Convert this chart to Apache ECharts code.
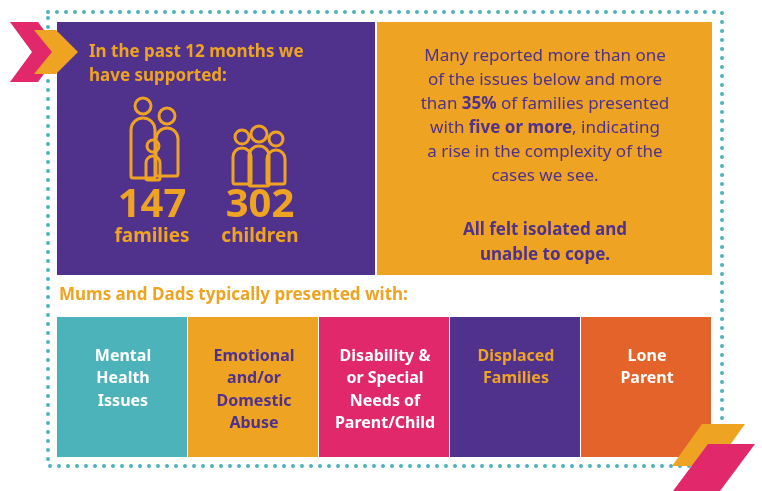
<!DOCTYPE html>
<html><head><meta charset="utf-8">
<script src="https://cdn.jsdelivr.net/npm/echarts@6/dist/echarts.min.js"></script>
<style>html,body{margin:0;background:#fff}#main{width:762px;height:491px}</style>
</head><body><div id="main"></div>
<script>
var statValues = [147, 302];
var statLabels = ['families', 'children'];
var categories = ['Mental\nHealth\nIssues', 'Emotional\nand/or\nDomestic\nAbuse', 'Disability &\nor Special\nNeeds of\nParent/Child', 'Displaced\nFamilies', 'Lone\nParent'];
var catColors = ['#4bb3b9', '#eea422', '#e0286b', '#50318c', '#e3632b'];
var catTextColors = ['#fff', '#50318c', '#fff', '#eea422', '#fff'];

var PURPLE = '#50318c', ORANGE = '#eea422', TEAL = '#4bb3b9', PINK = '#e0286b';
var F = '"Noto Sans", sans-serif';
var myChart = echarts.init(document.getElementById('main'));
var g = [];

// dotted frame
g.push({type: 'rect', shape: {x: 48, y: 12, width: 674, height: 454},
  style: {fill: 'none', stroke: TEAL, lineWidth: 4, lineDash: [0, 9], lineCap: 'round'}});
// top panels
g.push({type: 'rect', shape: {x: 57, y: 22, width: 318, height: 253}, style: {fill: PURPLE}});
g.push({type: 'rect', shape: {x: 377, y: 22, width: 335, height: 253}, style: {fill: ORANGE}});
// chevrons top-left
g.push({type: 'polygon', shape: {points: [[10, 22], [38, 22], [60, 52], [38, 82], [10, 82], [32, 52]]}, style: {fill: PINK}});
g.push({type: 'polygon', shape: {points: [[34, 30], [56, 30], [78, 52], [56, 74], [34, 74], [52, 52]]}, style: {fill: ORANGE}});

g.push({type: 'text', left: 89, top: 40, style: {text: 'In the past 12 months we\nhave supported:',
  fill: ORANGE, font: 'bold 17px ' + F, lineHeight: 24}});

// icons (outline people)
function person(cx, top, r, w, h) {
  g.push({type: 'circle', shape: {cx: cx, cy: top + r, r: r}, style: {fill: 'none', stroke: ORANGE, lineWidth: 3}});
  g.push({type: 'rect', shape: {x: cx - w / 2, y: top + 2 * r + 4, width: w, height: h, r: [w / 2, w / 2, 2, 2]},
    style: {fill: 'none', stroke: ORANGE, lineWidth: 3}});
}
person(143, 98, 8, 24, 60);
person(167, 108, 8, 22, 48);
person(153, 140, 6, 14, 24);
person(242, 130, 7, 18, 36);
person(259, 126, 8, 20, 40);
person(276, 132, 7, 18, 34);

var statX = [152, 260];
statValues.forEach(function (v, i) {
  g.push({type: 'text', x: statX[i], y: 186, style: {text: String(v), fill: ORANGE, font: 'bold 40px ' + F, align: 'center'}});
  g.push({type: 'text', x: statX[i], y: 227, style: {text: statLabels[i], fill: ORANGE, font: 'bold 19px ' + F, align: 'center'}});
});

g.push({type: 'text', x: 545, y: 44, style: {
  text: 'Many reported more than one\nof the issues below and more\nthan {b|35%} of families presented\nwith {b|five or more}, indicating\na rise in the complexity of the\ncases we see.',
  fill: PURPLE, font: '17px ' + F, align: 'center', lineHeight: 24,
  rich: {b: {fill: PURPLE, font: 'bold 17px ' + F}}}});
g.push({type: 'text', x: 545, y: 218, style: {text: 'All felt isolated and\nunable to cope.',
  fill: PURPLE, font: 'bold 17px ' + F, align: 'center', lineHeight: 25}});

g.push({type: 'text', left: 59, top: 287, style: {text: 'Mums and Dads typically presented with:',
  fill: ORANGE, font: 'bold 17px ' + F}});

categories.forEach(function (c, i) {
  var x = 57 + i * 131;
  g.push({type: 'rect', shape: {x: x, y: 317, width: 130, height: 140}, style: {fill: catColors[i]}});
  g.push({type: 'text', x: x + 66, y: 345, style: {text: c, fill: catTextColors[i],
    font: 'bold 16px ' + F, align: 'center', lineHeight: 22.5}});
});

// chevrons bottom-right, on top of boxes
g.push({type: 'polygon', shape: {points: [[702, 424], [745, 424], [715, 466], [672, 466]]}, style: {fill: ORANGE}});
g.push({type: 'polygon', shape: {points: [[708, 444], [755, 444], [720, 491], [673, 491]]}, style: {fill: PINK}});

myChart.setOption({graphic: g});
</script></body></html>
